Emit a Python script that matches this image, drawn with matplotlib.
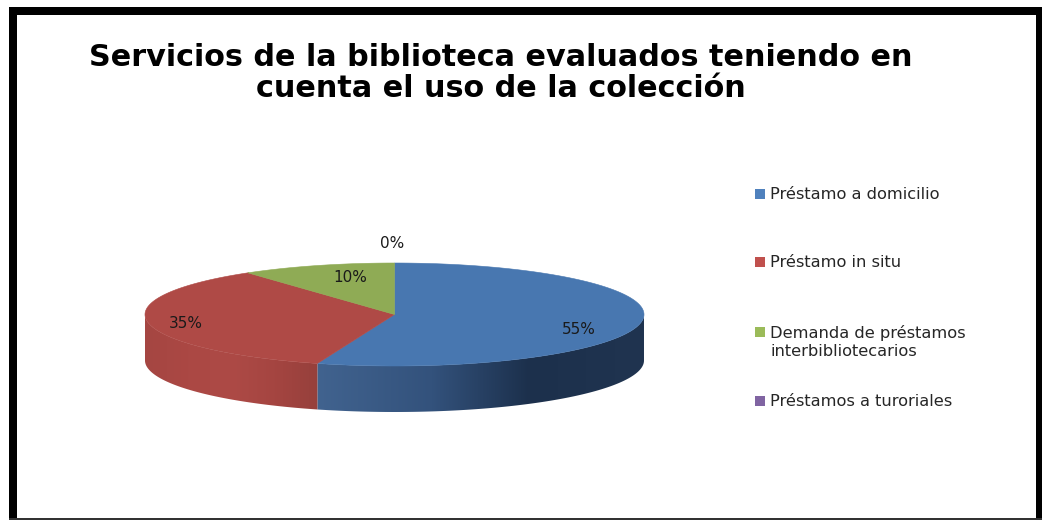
import numpy as np
from matplotlib import pyplot as plt
from matplotlib.colors import LinearSegmentedColormap
from matplotlib.patches import Polygon, Rectangle

title = "Servicios de la biblioteca evaluados teniendo en\ncuenta el uso de la colección"
categories = ["Préstamo a domicilio", "Préstamo in situ",
              "Demanda de préstamos\ninterbibliotecarios", "Préstamos a turoriales"]
values = [55, 35, 10, 0]
colors = ["#4877b0", "#af4a46", "#8fab55", "#8064a2"]
legend_colors = ["#4f81bd", "#c0504d", "#9bbb59", "#8064a2"]

# label positions in pixels
label_x = [579, 186, 350, 392]
label_y = [330, 324, 278, 244]
legend_y = [194, 262, 332, 401]

# pie geometry in pixels
cx, cy = 394.5, 314.5
rx, ry = 249.5, 51.5
depth = 46

fig = plt.figure(figsize=(10.42, 5.2), dpi=100)
ax = fig.add_axes([0, 0, 1, 1])
ax.set_xlim(0, 1042)
ax.set_ylim(520, 0)
ax.axis("off")

# black frame
ax.add_patch(Rectangle((9, 7), 1033, 8, facecolor="black", edgecolor="none"))
ax.add_patch(Rectangle((9, 7), 8, 513, facecolor="black", edgecolor="none"))
ax.add_patch(Rectangle((1036, 7), 6, 513, facecolor="black", edgecolor="none"))
ax.add_patch(Rectangle((9, 518), 1033, 2, facecolor="#333333", edgecolor="none"))


def rim(a0, a1, n=200):
    # angles are clockwise from the top, in degrees
    t = np.radians(np.linspace(a0, a1, n))
    return cx + rx * np.sin(t), cy - ry * np.cos(t)


def side(a0, a1, cmap):
    x, y = rim(a0, a1)
    pts = np.column_stack([np.r_[x, x[::-1]], np.r_[y, y[::-1] + depth]])
    poly = Polygon(pts, closed=True, facecolor="none", edgecolor="none")
    ax.add_patch(poly)
    im = ax.imshow(np.linspace(0, 1, 256).reshape(1, -1), cmap=cmap, aspect="auto",
                   extent=[x.min(), x.max(), cy + ry + depth + 2, cy - 2], zorder=2)
    im.set_clip_path(poly)


edges = np.r_[0, np.cumsum(values)] / np.sum(values) * 360

blue_side = LinearSegmentedColormap.from_list(
    "blue_side", [(0, "#41638f"), (0.35, "#33527c"), (0.65, "#1c304c"), (1, "#203450")])
red_side = LinearSegmentedColormap.from_list(
    "red_side", ["#a54642", "#ab4844", "#ad4a46", "#a54541", "#96403c"])

side(90, edges[1], blue_side)
side(edges[1], 270, red_side)
ax.set_xlim(0, 1042)
ax.set_ylim(520, 0)

# top of the pie
for i in range(len(values)):
    if values[i] == 0:
        continue
    x, y = rim(edges[i], edges[i + 1])
    pts = np.column_stack([np.r_[cx, x], np.r_[cy, y]])
    ax.add_patch(Polygon(pts, closed=True, facecolor=colors[i], edgecolor=colors[i],
                         linewidth=0.4, zorder=3))

for i in range(len(values)):
    ax.text(label_x[i], label_y[i], f"{values[i]}%", fontsize=11, family="DejaVu Sans",
            color="#1a1a1a", ha="center", va="center", zorder=4)

# title
ax.text(501, 73, title, fontsize=21.8, family="DejaVu Sans", fontweight="bold",
        ha="center", va="center", linespacing=1.1, color="black")

# legend
for i in range(len(categories)):
    ax.add_patch(Rectangle((755, legend_y[i] - 5), 10, 10, facecolor=legend_colors[i],
                           edgecolor="none"))
    ax.text(770, legend_y[i] - 7, categories[i], fontsize=11.7, family="DejaVu Sans",
            color="#262626", ha="left", va="top", linespacing=1.27)

plt.savefig("out.png", dpi=100)
